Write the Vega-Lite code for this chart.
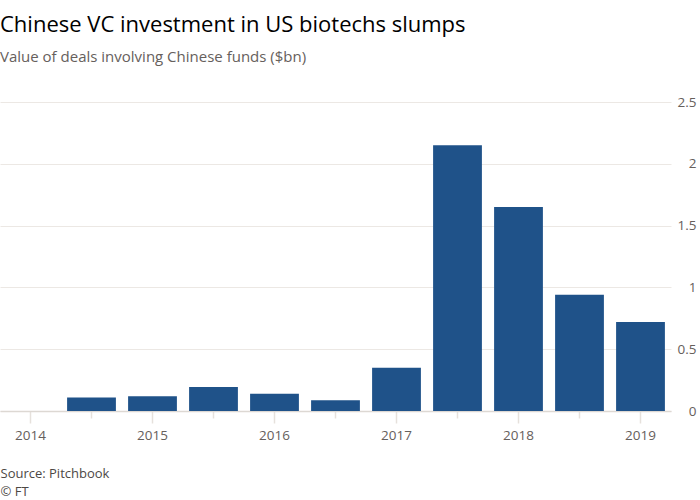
{
  "$schema": "https://vega.github.io/schema/vega-lite/v6.json",
  "width": 671,
  "height": 309,
  "padding": {"top": 14, "left": 0, "right": 5, "bottom": 0},
  "background": "white",
  "config": {
    "font": "Open Sans",
    "view": {"stroke": null}
  },
  "title": {
    "text": "Chinese VC investment in US biotechs slumps",
    "subtitle": "Value of deals involving Chinese funds ($bn)",
    "anchor": "start",
    "frame": "group",
    "fontSize": 22,
    "fontWeight": "normal",
    "color": "#000000",
    "subtitleFontSize": 15,
    "subtitleColor": "#66605c",
    "subtitlePadding": 13,
    "offset": 29
  },
  "data": {
    "values": [
      {"period": "2014 H1", "value": 0.0},
      {"period": "2014 H2", "value": 0.11},
      {"period": "2015 H1", "value": 0.12},
      {"period": "2015 H2", "value": 0.195},
      {"period": "2016 H1", "value": 0.14},
      {"period": "2016 H2", "value": 0.087},
      {"period": "2017 H1", "value": 0.35},
      {"period": "2017 H2", "value": 2.15},
      {"period": "2018 H1", "value": 1.65},
      {"period": "2018 H2", "value": 0.94},
      {"period": "2019 H1", "value": 0.72}
    ]
  },
  "mark": {"type": "bar", "color": "#1f5289"},
  "encoding": {
    "x": {
      "field": "period",
      "type": "ordinal",
      "sort": null,
      "scale": {"paddingInner": 0.2, "paddingOuter": 0.1},
      "axis": {
        "title": ["Source: Pitchbook", "© FT"],
        "titleFontSize": 13,
        "titleFontWeight": "normal",
        "titleColor": "#4d4845",
        "titleAnchor": "start",
        "titleAlign": "left",
        "titleX": 0,
        "titlePadding": 26,
        "titleLineHeight": 18,
        "labelAngle": 0,
        "labelExpr": "indexof(datum.value, 'H1') >= 0 ? slice(datum.value, 0, 4) : ''",
        "labelFontSize": 13.5,
        "labelColor": "#66605c",
        "labelPadding": 5,
        "domainColor": "#ddd8d3",
        "domainWidth": 1.5,
        "tickColor": "#e6e1dc",
        "tickWidth": 1.5,
        "tickSize": {"condition": {"test": "indexof(datum.value, 'H1') >= 0", "value": 12}, "value": 7}
      }
    },
    "y": {
      "field": "value",
      "type": "quantitative",
      "scale": {"domain": [0, 2.5]},
      "axis": {
        "orient": "right",
        "title": null,
        "values": [0, 0.5, 1, 1.5, 2, 2.5],
        "format": "~g",
        "labelAlign": "right",
        "labelPadding": 25,
        "labelFontSize": 13.5,
        "labelColor": "#66605c",
        "domain": false,
        "ticks": false,
        "gridColor": "#ece8e4",
        "gridWidth": 1
      }
    }
  }
}
